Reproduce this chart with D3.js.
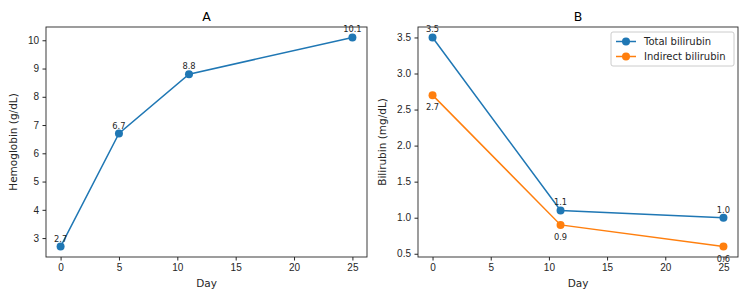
<!DOCTYPE html>
<html>
<head>
    <meta charset="utf-8">
    <title>Hemoglobin and bilirubin</title>
    <style>
        body {
            margin: 0;
            background: #fff;
            font-family: "DejaVu Sans", sans-serif;
        }

        .axis text {
            font-size: 10px;
            fill: #262626;
        }

        .axis path, .axis line {
            stroke: #262626;
        }

        .label {
            font-size: 10.5px;
            fill: #262626;
        }

        .title {
            font-size: 12.5px;
            fill: #000;
        }

        .note {
            font-size: 8.3px;
            fill: #262626;
        }
    </style>
    <script src="https://d3js.org/d3.v7.min.js"></script>
</head>

<body>

<script type="text/javascript">
    var hbDays = [0, 5, 11, 25],
        hbValues = [2.7, 6.7, 8.8, 10.1];

    var biliDays = [0, 11, 25],
        totalBili = [3.5, 1.1, 1.0],
        indirectBili = [2.7, 0.9, 0.6];

    var xTicks = [0, 5, 10, 15, 20, 25],
        hbTicks = [3, 4, 5, 6, 7, 8, 9, 10],
        biliTicks = [0.5, 1.0, 1.5, 2.0, 2.5, 3.0, 3.5];

    var blue = "#1f77b4", orange = "#ff7f0e";

    var width = 750, height = 300;

    var svg = d3.select("body").append("svg")
            .attr("width", width)
            .attr("height", height);

    // pad the domain by 5% on each side, like matplotlib does
    function padded(lo, hi) {
        var m = (hi - lo) * 0.05;
        return [lo - m, hi + m];
    }

    function panel(opts) {
        var left = opts.left, right = opts.right, top = 27, bottom = 257;

        var x = d3.scaleLinear().domain(padded(0, 25)).range([left, right]);
        var y = d3.scaleLinear().domain(opts.yDomain).range([bottom, top]);

        var g = svg.append("g");

        g.append("g")
                .attr("class", "axis")
                .attr("transform", "translate(0," + bottom + ")")
                .call(d3.axisBottom(x).tickValues(xTicks).tickSize(3.5).tickPadding(3.5)
                        .tickFormat(d3.format("d")))
                .call(function (a) { a.select(".domain").remove(); });

        g.append("g")
                .attr("class", "axis")
                .attr("transform", "translate(" + left + ",0)")
                .call(d3.axisLeft(y).tickValues(opts.yTicks).tickSize(3.5).tickPadding(3.5)
                        .tickFormat(opts.yFormat))
                .call(function (a) { a.select(".domain").remove(); });

        g.append("rect")
                .attr("x", left)
                .attr("y", top)
                .attr("width", right - left)
                .attr("height", bottom - top)
                .attr("fill", "none")
                .attr("stroke", "#262626")
                .attr("stroke-width", 0.9);

        g.append("text")
                .attr("class", "title")
                .attr("x", (left + right) / 2)
                .attr("y", top - 6)
                .attr("text-anchor", "middle")
                .text(opts.title);

        g.append("text")
                .attr("class", "label")
                .attr("x", (left + right) / 2)
                .attr("y", 287)
                .attr("text-anchor", "middle")
                .text("Day");

        g.append("text")
                .attr("class", "label")
                .attr("transform", "translate(" + opts.yLabelX + "," + (top + bottom) / 2 + ") rotate(-90)")
                .attr("text-anchor", "middle")
                .text(opts.yLabel);

        var line = d3.line()
                .x(function (d) { return x(d[0]); })
                .y(function (d) { return y(d[1]); });

        opts.series.forEach(function (s) {
            var pts = s.days.map(function (d, i) { return [d, s.values[i]]; });

            g.append("path")
                    .datum(pts)
                    .attr("d", line)
                    .attr("fill", "none")
                    .attr("stroke", s.color)
                    .attr("stroke-width", 1.5);

            g.selectAll(null)
                    .data(pts)
                    .enter().append("circle")
                    .attr("cx", function (d) { return x(d[0]); })
                    .attr("cy", function (d) { return y(d[1]); })
                    .attr("r", 4)
                    .attr("fill", s.color);

            g.selectAll(null)
                    .data(pts)
                    .enter().append("text")
                    .attr("class", "note")
                    .attr("x", function (d) { return x(d[0]); })
                    .attr("y", function (d) { return y(d[1]) + (s.below ? 15 : -5); })
                    .attr("text-anchor", "middle")
                    .text(function (d) { return d[1].toFixed(1); });
        });

        return g;
    }

    panel({
        left: 46, right: 367,
        yDomain: padded(2.7, 10.1),
        yTicks: hbTicks,
        yFormat: d3.format("d"),
        title: "A",
        yLabel: "Hemoglobin (g/dL)",
        yLabelX: 17,
        series: [{days: hbDays, values: hbValues, color: blue}]
    });

    var right = panel({
        left: 418, right: 738,
        yDomain: padded(0.6, 3.5),
        yTicks: biliTicks,
        yFormat: d3.format(".1f"),
        title: "B",
        yLabel: "Bilirubin (mg/dL)",
        yLabelX: 386,
        series: [
            {days: biliDays, values: totalBili, color: blue},
            {days: biliDays, values: indirectBili, color: orange, below: true}
        ]
    });

    // legend
    var legend = right.append("g").attr("transform", "translate(611,32)");

    legend.append("rect")
            .attr("width", 123)
            .attr("height", 34)
            .attr("rx", 2)
            .attr("fill", "#fff")
            .attr("fill-opacity", 0.8)
            .attr("stroke", "#ccc");

    [["Total bilirubin", blue], ["Indirect bilirubin", orange]].forEach(function (e, i) {
        var yy = 9.5 + i * 15;
        legend.append("line")
                .attr("x1", 5).attr("x2", 25)
                .attr("y1", yy).attr("y2", yy)
                .attr("stroke", e[1]).attr("stroke-width", 1.5);
        legend.append("circle")
                .attr("cx", 15).attr("cy", yy).attr("r", 4)
                .attr("fill", e[1]);
        legend.append("text")
                .attr("class", "label")
                .attr("x", 33).attr("y", yy + 3.7)
                .style("font-size", "10px")
                .text(e[0]);
    });
</script>

</body>

</html>
